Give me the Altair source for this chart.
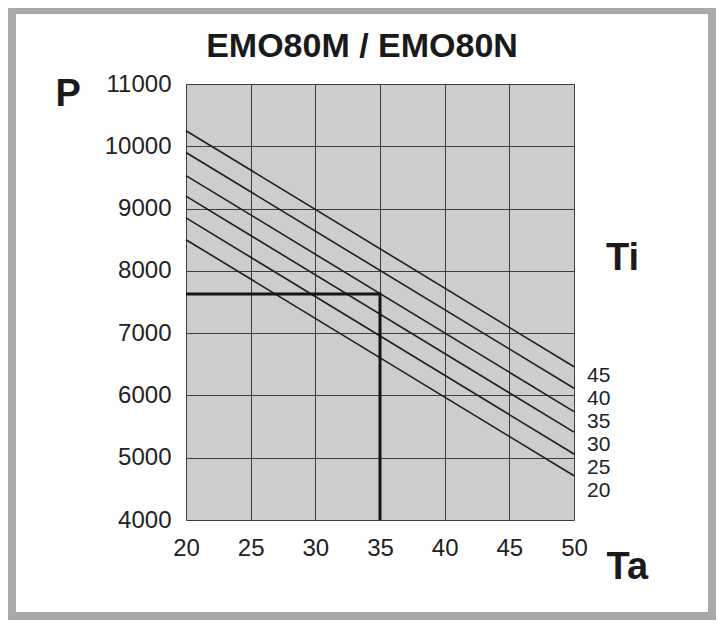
import altair as alt
import pandas as pd

# ---- data ----
ti_values = [20, 25, 30, 35, 40, 45]
ta_ends = [20, 50]
p_at_ta20 = [8500, 8850, 9200, 9530, 9900, 10250]
p_at_ta50 = [4710, 5060, 5410, 5740, 6115, 6460]

label_text = ["20", "25", "30", "35", "40", "45"]
label_p = [4466, 4835, 5204, 5573, 5943, 6312]

ref_ta = [20, 35, 35]
ref_p = [7630, 7630, 4000]

x_ticks = [20, 25, 30, 35, 40, 45, 50]
y_grid = [4000, 4500, 5000, 5500, 6000, 6500, 7000, 7500, 8000, 8500,
          9000, 9500, 10000, 10500, 11000]

FONT = "Liberation Sans"

rows = []
for ti, p20, p50 in zip(ti_values, p_at_ta20, p_at_ta50):
    rows.append({"Ti": ti, "Ta": ta_ends[0], "P": p20})
    rows.append({"Ti": ti, "Ta": ta_ends[1], "P": p50})
lines_df = pd.DataFrame(rows)

ref_df = pd.DataFrame({"Ta": ref_ta, "P": ref_p, "order": list(range(len(ref_ta)))})
lab_df = pd.DataFrame({"label": label_text, "P": label_p, "Ta": [ta_ends[1]] * len(label_p)})

xscale = alt.Scale(domain=[20, 50], nice=False, zero=False)
yscale = alt.Scale(domain=[4000, 11000], nice=False, zero=False)

x_enc = alt.X("Ta:Q", scale=xscale,
              axis=alt.Axis(values=x_ticks, title="Ta", titleAngle=0,
                            titleX=420, titleY=58, titleAlign="left",
                            titleBaseline="alphabetic", titleFontSize=38,
                            titleFontWeight="bold", titleFont=FONT,
                            titleColor="#1a1a1a", labelFlush=False,
                            labelOverlap=False,
                            labelPadding=16, labelFontSize=24))
y_enc = alt.Y("P:Q", scale=yscale,
              axis=alt.Axis(values=y_grid, format="d",
                            labelExpr="datum.value % 1000 == 0 ? datum.label : ''",
                            title="P", titleAngle=0, titleX=-131, titleY=21,
                            titleAlign="left", titleBaseline="alphabetic",
                            titleFontSize=38, titleFontWeight="bold",
                            titleFont=FONT, titleColor="#1a1a1a",
                            labelFlush=False, labelOverlap=False,
                            labelPadding=15, labelFontSize=24))

lines = alt.Chart(lines_df).mark_line(color="#1e1e1e", strokeWidth=1.6).encode(
    x=x_enc, y=y_enc, detail="Ti:N"
)

ref = alt.Chart(ref_df).mark_line(color="#151515", strokeWidth=3).encode(
    x=alt.X("Ta:Q", scale=xscale), y=alt.Y("P:Q", scale=yscale), order="order:Q"
)

labels = alt.Chart(lab_df).mark_text(
    align="left", baseline="middle", dx=13, fontSize=21, font=FONT, color="#222222"
).encode(
    x=alt.X("Ta:Q", scale=xscale), y=alt.Y("P:Q", scale=yscale), text="label:N"
)

one = pd.DataFrame({"k": [0]})

title = alt.Chart(one).mark_text(
    text="EMO80M / EMO80N", align="center", baseline="alphabetic",
    fontSize=34, fontWeight="bold", font=FONT, color="#1a1a1a"
).encode(x=alt.value(176), y=alt.value(-27))

ti_title = alt.Chart(one).mark_text(
    text="Ti", align="left", baseline="alphabetic",
    fontSize=38, fontWeight="bold", font=FONT, color="#1a1a1a"
).encode(x=alt.value(420), y=alt.value(186))

frame = alt.Chart(one).mark_rect(
    filled=False, stroke="#a9a9a9", strokeWidth=8
).encode(x=alt.value(-174), x2=alt.value(526), y=alt.value(-74), y2=alt.value(532))

chart = alt.layer(lines, ref, labels, title, ti_title, frame).properties(
    width=388, height=436,
    autosize=alt.AutoSizeParams(type="none"),
    padding={"left": 178, "top": 76, "right": 142, "bottom": 100},
    background="white",
).configure_view(
    fill="#cccdce", stroke=None
).configure_axis(
    grid=True, gridColor="#3d3d3d", gridWidth=1, gridOpacity=1,
    domain=False, ticks=False, labelColor="#222222", labelFont=FONT,
)

chart.save("out.html", embed_options={"renderer": "svg", "actions": False})
